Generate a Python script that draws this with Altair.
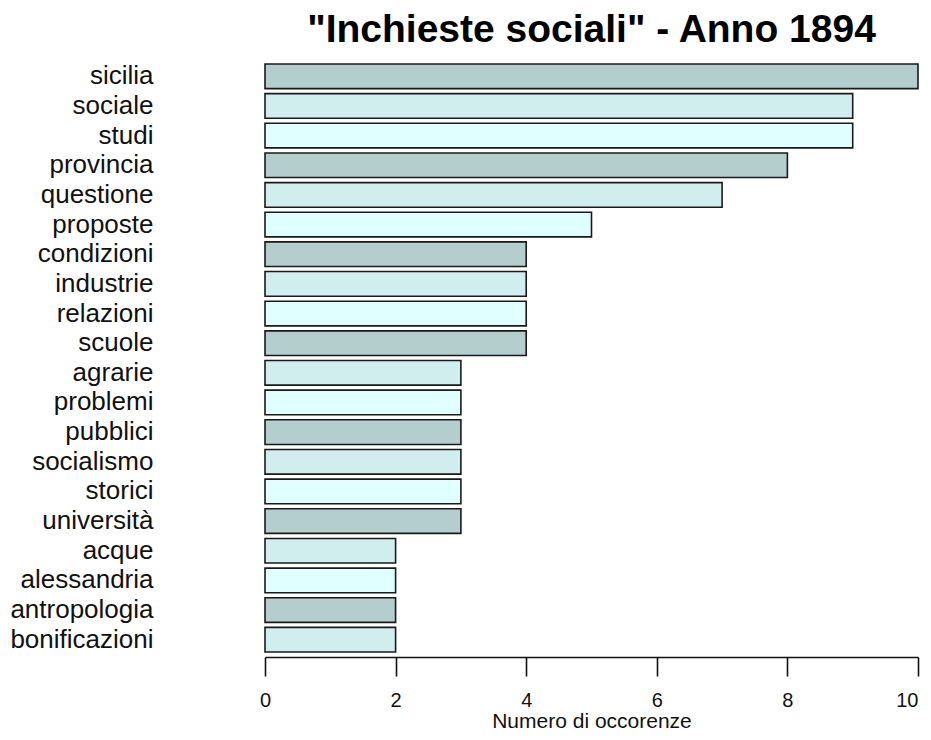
import altair as alt
import pandas as pd

words = ["sicilia", "sociale", "studi", "provincia", "questione", "proposte",
         "condizioni", "industrie", "relazioni", "scuole", "agrarie", "problemi",
         "pubblici", "socialismo", "storici", "università", "acque", "alessandria",
         "antropologia", "bonificazioni"]
counts = [10, 9, 9, 8, 7, 5, 4, 4, 4, 4, 3, 3, 3, 3, 3, 3, 2, 2, 2, 2]
palette = ["#B4CDCD", "#D1EEEE", "#E0FFFF"]
x_ticks = [0, 2, 4, 6, 8, 10]

df = pd.DataFrame({
    "parola": words,
    "occorrenze": counts,
    "gruppo": [i % 3 for i in range(len(words))],
})

font = "Liberation Sans"

chart = alt.Chart(df).mark_bar(
    stroke="#1a1a1a", strokeWidth=1.6
).encode(
    y=alt.Y("parola:N", sort=words,
            scale=alt.Scale(paddingInner=0.17, paddingOuter=0),
            axis=alt.Axis(title=None, domain=False, ticks=False, labelFont=font,
                          labelFontSize=26, labelColor="#111", labelPadding=112,
                          labelAlign="right", labelBaseline="middle")),
    x=alt.X("occorrenze:Q",
            scale=alt.Scale(domain=[0, 10], nice=False, zero=True),
            axis=alt.Axis(title="Numero di occorenze", values=x_ticks, grid=False,
                          domainColor="#111", domainWidth=1.6, tickColor="#111",
                          tickWidth=1.6, tickSize=19, offset=5,
                          labelFont=font, labelFontSize=20, labelColor="#111",
                          labelPadding=14, labelFlush=False, labelOverlap=False,
                          labelAlign=alt.ExprRef("datum.value == 10 ? 'right' : 'center'"),
                          titleFont=font, titleFontSize=21, titleFontWeight="normal",
                          titleColor="#111", titlePadding=0)),
    color=alt.Color("gruppo:O", scale=alt.Scale(domain=[0, 1, 2], range=palette),
                    legend=None),
).properties(
    width=653,
    height=588,
    title=alt.TitleParams('"Inchieste sociali" - Anno 1894', font=font,
                          fontSize=39, fontWeight="bold", color="#000",
                          anchor="middle", offset=13),
    autosize=alt.AutoSizeParams(type="none"),
    padding={"left": 257, "top": 56, "right": 5, "bottom": 80},
).configure_view(stroke=None)

chart.save("out.html", embed_options={"renderer": "svg", "actions": False})
